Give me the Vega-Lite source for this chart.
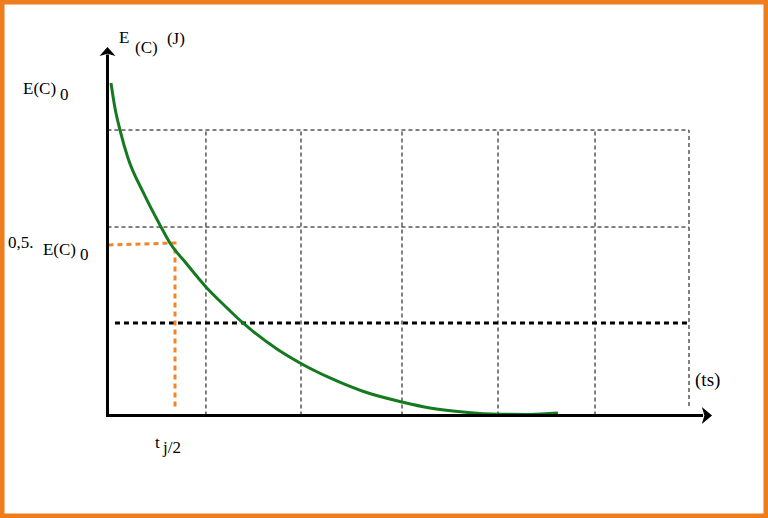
{
  "$schema": "https://vega.github.io/schema/vega-lite/v6.json",
  "width": 768,
  "height": 518,
  "autosize": "none",
  "padding": 0,
  "background": "white",
  "config": {"view": {"stroke": "#EE7D1E", "strokeWidth": 9}},
  "datasets": {
    "grid": [
      {"x": 0, "x2": 5.995, "y": 3.005, "y2": 3.005},
      {"x": 0, "x2": 5.995, "y": 1.984, "y2": 1.984},
      {"x": 1.015, "x2": 1.015, "y": 0, "y2": 3.005},
      {"x": 1.995, "x2": 1.995, "y": 0, "y2": 3.005},
      {"x": 3.036, "x2": 3.036, "y": 0, "y2": 3.005},
      {"x": 4.026, "x2": 4.026, "y": 0, "y2": 3.005},
      {"x": 5.026, "x2": 5.026, "y": 0, "y2": 3.005},
      {"x": 5.995, "x2": 5.995, "y": 0.1, "y2": 3.005}
    ],
    "thick": [{"x": 0.077, "x2": 5.995, "y": 0.974, "y2": 0.974}],
    "half": [
      {"x": 0.01, "y": 1.795},
      {"x": 0.696, "y": 1.816},
      {"x": 0.696, "y": 0.079}
    ],
    "curve": [
      {"x": 0.036, "y": 3.5},
      {"x": 0.077, "y": 3.237},
      {"x": 0.129, "y": 3.005},
      {"x": 0.211, "y": 2.711},
      {"x": 0.366, "y": 2.353},
      {"x": 0.552, "y": 1.984},
      {"x": 0.644, "y": 1.816},
      {"x": 0.809, "y": 1.605},
      {"x": 1.015, "y": 1.353},
      {"x": 1.211, "y": 1.153},
      {"x": 1.397, "y": 0.974},
      {"x": 1.747, "y": 0.7},
      {"x": 1.985, "y": 0.553},
      {"x": 2.294, "y": 0.395},
      {"x": 2.655, "y": 0.247},
      {"x": 3.036, "y": 0.142},
      {"x": 3.325, "y": 0.079},
      {"x": 3.665, "y": 0.037},
      {"x": 4.026, "y": 0.013},
      {"x": 4.356, "y": 0.011},
      {"x": 4.644, "y": 0.026}
    ],
    "axes": [
      {"x": -0.015, "x2": 6.14, "y": 0, "y2": 0},
      {"x": 0, "x2": 0, "y": -0.015, "y2": 3.8}
    ],
    "arrowUp": [{"x": 0, "y": 3.832}],
    "arrowRight": [{"x": 6.18, "y": 0}],
    "labels": [
      {"x": 0.119, "y": 3.921, "t": "E"},
      {"x": 0.284, "y": 3.816, "t": "(C)"},
      {"x": 0.613, "y": 3.911, "t": "(J)"},
      {"x": -0.871, "y": 3.389, "t": "E(C)"},
      {"x": -0.49, "y": 3.321, "t": "0"},
      {"x": -1.026, "y": 1.763, "t": "0,5."},
      {"x": -0.665, "y": 1.689, "t": "E(C)"},
      {"x": -0.284, "y": 1.637, "t": "0"},
      {"x": 0.49, "y": -0.342, "t": "t"},
      {"x": 0.572, "y": -0.395, "t": "j/2"}
    ],
    "unit": [
      {"x": 6.057, "y": 0.31, "t": "(ts)"}
    ]
  },
  "layer": [
    {
      "data": {"name": "grid"},
      "mark": {"type": "rule", "stroke": "black", "strokeWidth": 1, "strokeDash": [4, 3]},
      "encoding": {
        "x": {"field": "x", "type": "quantitative", "scale": {"domain": [-1.1082, 6.8093], "nice": false, "zero": false}, "axis": null},
        "x2": {"field": "x2"},
        "y": {"field": "y", "type": "quantitative", "scale": {"domain": [-1.0789, 4.3737], "nice": false, "zero": false}, "axis": null},
        "y2": {"field": "y2"}
      }
    },
    {
      "data": {"name": "thick"},
      "mark": {"type": "rule", "stroke": "black", "strokeWidth": 3, "strokeDash": [5, 4]},
      "encoding": {
        "x": {"field": "x", "type": "quantitative"},
        "x2": {"field": "x2"},
        "y": {"field": "y", "type": "quantitative"},
        "y2": {"field": "y2"}
      }
    },
    {
      "data": {"name": "half"},
      "mark": {"type": "line", "stroke": "#F0862C", "strokeWidth": 3, "strokeDash": [5, 4]},
      "encoding": {
        "x": {"field": "x", "type": "quantitative"},
        "y": {"field": "y", "type": "quantitative"},
        "order": {"value": null}
      }
    },
    {
      "data": {"name": "curve"},
      "mark": {"type": "line", "stroke": "#157A1F", "strokeWidth": 3, "interpolate": "monotone"},
      "encoding": {
        "x": {"field": "x", "type": "quantitative"},
        "y": {"field": "y", "type": "quantitative"}
      }
    },
    {
      "data": {"name": "axes"},
      "mark": {"type": "rule", "stroke": "black", "strokeWidth": 3},
      "encoding": {
        "x": {"field": "x", "type": "quantitative"},
        "x2": {"field": "x2"},
        "y": {"field": "y", "type": "quantitative"},
        "y2": {"field": "y2"}
      }
    },
    {
      "data": {"name": "arrowUp"},
      "mark": {"type": "point", "filled": true, "color": "black", "opacity": 1, "size": 256, "shape": "M0,-0.56L1,0.56L0,0.3L-1,0.56Z"},
      "encoding": {
        "x": {"field": "x", "type": "quantitative"},
        "y": {"field": "y", "type": "quantitative"}
      }
    },
    {
      "data": {"name": "arrowRight"},
      "mark": {"type": "point", "filled": true, "color": "black", "opacity": 1, "size": 289, "shape": "M0.6,0L-0.6,1L-0.3,0L-0.6,-1Z"},
      "encoding": {
        "x": {"field": "x", "type": "quantitative"},
        "y": {"field": "y", "type": "quantitative"}
      }
    },
    {
      "data": {"name": "labels"},
      "mark": {"type": "text", "font": "'Liberation Serif', 'Times New Roman', serif", "fontSize": 17, "align": "left", "baseline": "alphabetic", "color": "black"},
      "encoding": {
        "x": {"field": "x", "type": "quantitative"},
        "y": {"field": "y", "type": "quantitative"},
        "text": {"field": "t"}
      }
    },
    {
      "data": {"name": "unit"},
      "mark": {"type": "text", "font": "'Liberation Serif', 'Times New Roman', serif", "fontSize": 19, "align": "left", "baseline": "alphabetic", "color": "black"},
      "encoding": {
        "x": {"field": "x", "type": "quantitative"},
        "y": {"field": "y", "type": "quantitative"},
        "text": {"field": "t"}
      }
    }
  ]
}
